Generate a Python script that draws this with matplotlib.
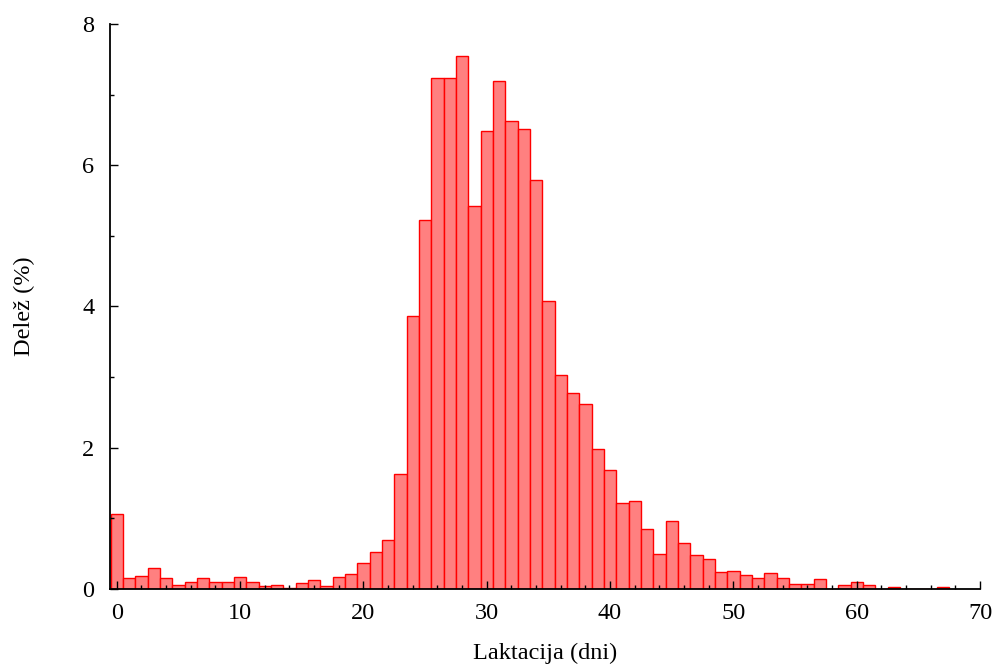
import matplotlib
matplotlib.use("Agg")
import matplotlib.pyplot as plt
from matplotlib.ticker import MultipleLocator

days = list(range(0, 68))
share = [1.06, 0.15, 0.19, 0.30, 0.15, 0.06, 0.10, 0.15, 0.10, 0.10,
         0.17, 0.10, 0.04, 0.06, 0.015, 0.085, 0.13, 0.04, 0.17, 0.21,
         0.37, 0.52, 0.69, 1.63, 3.87, 5.22, 7.23, 7.23, 7.54, 5.42,
         6.49, 7.19, 6.62, 6.51, 5.79, 4.08, 3.03, 2.77, 2.62, 1.98,
         1.68, 1.22, 1.24, 0.85, 0.50, 0.96, 0.65, 0.48, 0.43, 0.245,
         0.26, 0.20, 0.155, 0.22, 0.155, 0.066, 0.066, 0.137, 0.0, 0.05,
         0.10, 0.05, 0.0, 0.024, 0.0, 0.0, 0.0, 0.024]

x_ticks = [0, 10, 20, 30, 40, 50, 60, 70]
y_ticks = [0, 2, 4, 6, 8]

plt.rcParams['font.family'] = ['Liberation Serif', 'DejaVu Serif']

fig = plt.figure(figsize=(9.99, 6.64), dpi=100)
ax = fig.add_axes([0.110, 0.113, 0.871, 0.851])

ax.bar(days, share, width=1.0, align='center', facecolor='#ff8080',
       edgecolor='#ff0000', linewidth=1.0)

ax.set_xlim(-0.55, 70)
ax.set_ylim(0, 8)
ax.set_xticks(x_ticks)
ax.set_yticks(y_ticks)
ax.xaxis.set_minor_locator(MultipleLocator(2))
ax.yaxis.set_minor_locator(MultipleLocator(1))

for s in ['top', 'right']:
    ax.spines[s].set_visible(False)
for s in ['left', 'bottom']:
    ax.spines[s].set_linewidth(1.3)
    ax.spines[s].set_color('black')

ax.tick_params(axis='both', which='major', direction='in', length=6, width=1.0,
               labelsize=17.5)
ax.tick_params(axis='both', which='minor', direction='in', length=3, width=1.0)
ax.tick_params(axis='x', which='major', pad=10)
ax.tick_params(axis='y', which='major', pad=11)

ax.set_xlabel('Laktacija (dni)', fontsize=17.5, labelpad=14)
ax.set_ylabel('Delež (%)', fontsize=17.5, labelpad=34)

fig.savefig('out.png', dpi=100)
